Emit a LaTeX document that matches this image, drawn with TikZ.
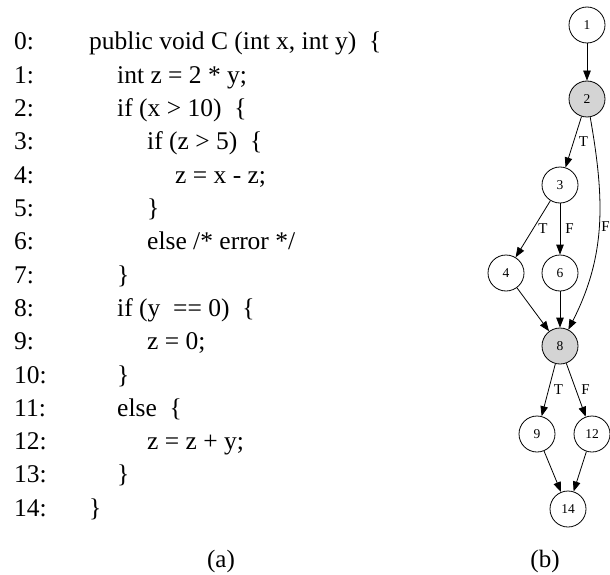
\documentclass[tikz,border=0pt]{standalone}
\usepackage{fontspec}
\setmainfont{Liberation Serif}
\usetikzlibrary{arrows.meta,positioning}

\begin{document}
\begin{tikzpicture}[
  x=1pt, y=1pt,
  num/.style={anchor=base west,inner sep=0pt,font=\fontsize{25.5}{30}\selectfont},
  code/.style={anchor=base west,inner sep=0pt,font=\fontsize{25.5}{30}\selectfont},
  blk/.style={draw,circle,minimum size=36pt,inner sep=0pt,line width=0.8pt,font=\fontsize{13.5}{16}\selectfont},
  hot/.style={blk,fill=black!17},
  arr/.style={-{Triangle[length=10pt,width=7.5pt]},line width=0.8pt},
  lbl/.style={font=\fontsize{15}{17}\selectfont,inner sep=2pt,right=3pt},
  caption/.style={anchor=base,font=\fontsize{25}{30}\selectfont}
]
\useasboundingbox (0,0) rectangle (610,-575);
% (a) source listing
\foreach \n in {0,...,14}
  \node[num] (num\n) at (14,{-50-33.3*\n}) {\n:};
\node[code] (line0) at (89,-50) {public void C (int x, int y)\ \ \{};
\node[code] (line1) at (117,-83.3) {int z = 2 * y;};
\node[code] (line2) at (117,-116.6) {if (x > 10)\ \ \{};
\node[code] (line3) at (147,-149.9) {if (z > 5)\ \ \{};
\node[code] (line4) at (175,-183.2) {z = x - z;};
\node[code] (line5) at (147,-216.5) {\}};
\node[code] (line6) at (147,-249.8) {else /* error */};
\node[code] (line7) at (117,-283.1) {\}};
\node[code] (line8) at (117,-316.4) {if (y\ \ == 0)\ \ \{};
\node[code] (line9) at (147,-349.7) {z = 0;};
\node[code] (line10) at (117,-383) {\}};
\node[code] (line11) at (117,-416.3) {else\ \ \{};
\node[code] (line12) at (147,-449.6) {z = z + y;};
\node[code] (line13) at (117,-482.9) {\}};
\node[code] (line14) at (89,-516.2) {\}};
% (b) control flow graph
\node[blk] (n1) at (587,-25) {1};
\node[hot] (n2) at (587,-99) {2};
\node[blk] (n3) at (560,-185) {3};
\node[blk] (n4) at (506,-273) {4};
\node[blk] (n6) at (560,-273) {6};
\node[hot] (n8) at (560,-346) {8};
\node[blk] (n9) at (537,-434) {9};
\node[blk] (n12) at (592,-434) {12};
\node[blk] (n14) at (568,-509) {14};
\draw[arr] (n1) -- (n2);
\draw[arr] (n2) -- node[lbl] {T} (n3);
\draw[arr] (n2) to[out=-80,in=63] node[lbl,pos=.5,right=0pt] {F} (n8);
\draw[arr] (n3) -- node[lbl] {T} (n4);
\draw[arr] (n3) -- node[lbl] {F} (n6);
\draw[arr] (n4) -- (n8);
\draw[arr] (n6) -- (n8);
\draw[arr] (n8) -- node[lbl] {T} (n9);
\draw[arr] (n8) -- node[lbl] {F} (n12);
\draw[arr] (n9) -- (n14);
\draw[arr] (n12) -- (n14);
% captions
\node[caption] (capa) at (221,-567) {(a)};
\node[caption] (capb) at (545,-567) {(b)};
\end{tikzpicture}
\end{document}
